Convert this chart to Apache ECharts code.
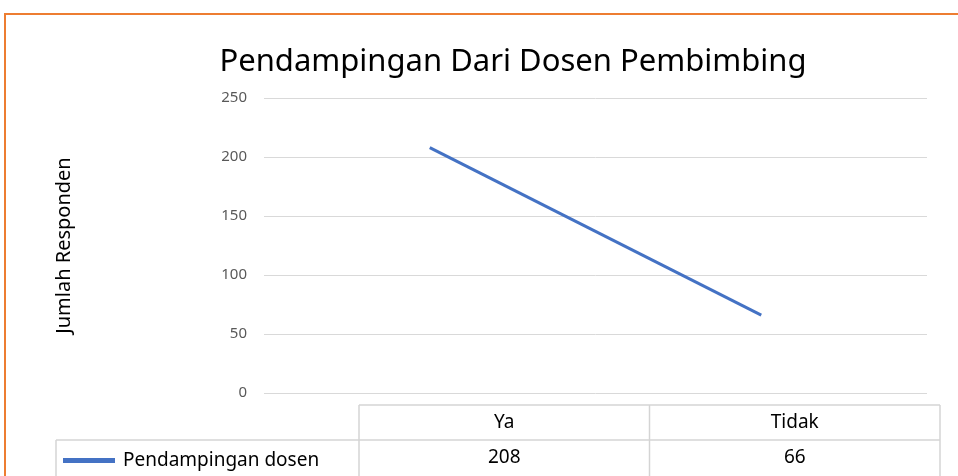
<!DOCTYPE html>
<html>
<head>
<meta charset="utf-8">
<script src="https://cdn.jsdelivr.net/npm/echarts@6/dist/echarts.min.js"></script>
<style>
  html, body { margin: 0; padding: 0; background: #fff; }
  #chart { width: 958px; height: 476px; }
</style>
</head>
<body>
<div id="chart"></div>
<script>
const categories = ["Ya", "Tidak"];
const seriesName = "Pendampingan dosen";
const values = [208, 66];
const yTicks = [0, 50, 100, 150, 200, 250];

const FONT = "Noto Sans";
const LINE_COLOR = "#4472C4";
const TABLE_BORDER = "#D4D4D4";

// data table below the plot (Excel style)
const tableLeft = 359, tableRight = 940, rowLabelLeft = 56;
const headTop = 405, rowTop = 440, rowBottom = 476;
const colW = (tableRight - tableLeft) / categories.length;

const tableGraphics = [];
const hline = (x1, x2, y) => tableGraphics.push({
  type: "line", shape: { x1, y1: y, x2, y2: y }, style: { stroke: TABLE_BORDER, lineWidth: 1.5 }
});
const vline = (x, y1, y2) => tableGraphics.push({
  type: "line", shape: { x1: x, y1, x2: x, y2 }, style: { stroke: TABLE_BORDER, lineWidth: 1.5 }
});
hline(tableLeft, tableRight, headTop);
hline(rowLabelLeft, tableRight, rowTop);
vline(rowLabelLeft, rowTop, rowBottom);
for (let i = 0; i <= categories.length; i++) vline(tableLeft + i * colW, headTop, rowBottom);
categories.forEach((c, i) => {
  const cx = tableLeft + colW * (i + 0.5);
  tableGraphics.push({
    type: "text", x: cx, y: (headTop + rowTop) / 2,
    style: { text: c, font: "19px " + FONT, fill: "#000", align: "center", verticalAlign: "middle" }
  });
  tableGraphics.push({
    type: "text", x: cx, y: (rowTop + rowBottom) / 2,
    style: { text: String(values[i]), font: "19px " + FONT, fill: "#000", align: "center", verticalAlign: "middle" }
  });
});

const chart = echarts.init(document.getElementById("chart"));
chart.setOption({
  animation: false,
  title: {
    text: "Pendampingan Dari Dosen Pembimbing",
    left: 508, top: 42, textAlign: "center",
    textStyle: { fontFamily: FONT, fontSize: 31, fontWeight: "normal", color: "#000" }
  },
  legend: {
    data: [seriesName],
    left: 58, top: 446,
    icon: "rect", itemWidth: 52, itemHeight: 5, itemGap: 8,
    textStyle: { fontFamily: FONT, fontSize: 19, color: "#000", padding: [0, 0, 0, 3] }
  },
  grid: { left: 264, right: 31, top: 98, bottom: 83 },
  xAxis: {
    type: "category", data: categories, boundaryGap: true,
    axisLine: { show: false }, axisTick: { show: false }, axisLabel: { show: false }
  },
  yAxis: {
    type: "value", min: yTicks[0], max: yTicks[yTicks.length - 1], interval: 50,
    name: "Jumlah Responden", nameLocation: "middle", nameGap: 190, nameRotate: 90,
    nameTextStyle: { fontFamily: FONT, fontSize: 20, color: "#000" },
    axisLabel: { fontFamily: FONT, fontSize: 15, color: "#595959", margin: 17 },
    splitLine: { lineStyle: { color: "#D9D9D9", width: 1 } },
    axisLine: { show: false }, axisTick: { show: false }
  },
  series: [{
    name: seriesName, type: "line", data: values,
    showSymbol: false, symbol: "none",
    lineStyle: { color: LINE_COLOR, width: 3 },
    itemStyle: { color: LINE_COLOR }
  }],
  graphic: [
    {
      type: "polyline",
      shape: { points: [[5, 476], [5, 14], [958, 14]] },
      style: { stroke: "#ED7D31", lineWidth: 2, fill: null }
    },
    ...tableGraphics
  ]
});
</script>
</body>
</html>
